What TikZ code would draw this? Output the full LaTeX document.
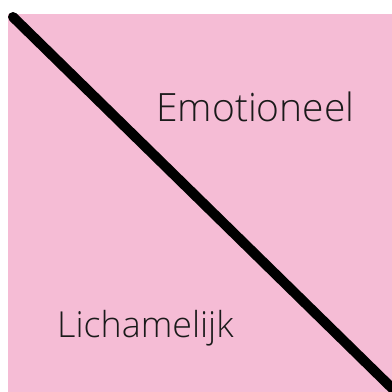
\documentclass[tikz,border=0pt]{standalone}
\usepackage{fontspec}
\setmainfont{Open Sans}[UprightFont=* Light]
\definecolor{bgpink}{HTML}{F5BCD5}
\definecolor{txt}{HTML}{1A1A1A}
\tikzset{
  label text/.style={anchor=base west, inner sep=0pt, text=txt},
  divider/.style={line width=10pt, line cap=round, black}
}
\begin{document}
\begin{tikzpicture}[x=1pt,y=-1pt]
\useasboundingbox (0,0) rectangle (392,392);
\fill[white] (0,0) rectangle (392,392);
\fill[bgpink] (8,14) rectangle (392,392);
\begin{scope}
\clip (0,0) rectangle (392,392);
\coordinate (s) at (13,17);
\coordinate (e) at (398,394);
\draw[divider] (s) -- (e);
\end{scope}
\node[label text, font=\fontsize{39}{42}\selectfont] (emo) at (156,121) {Emotioneel};
\node[label text, font=\fontsize{35.8}{40}\selectfont] (lich) at (57,337) {Lichamelijk};
\end{tikzpicture}
\end{document}
